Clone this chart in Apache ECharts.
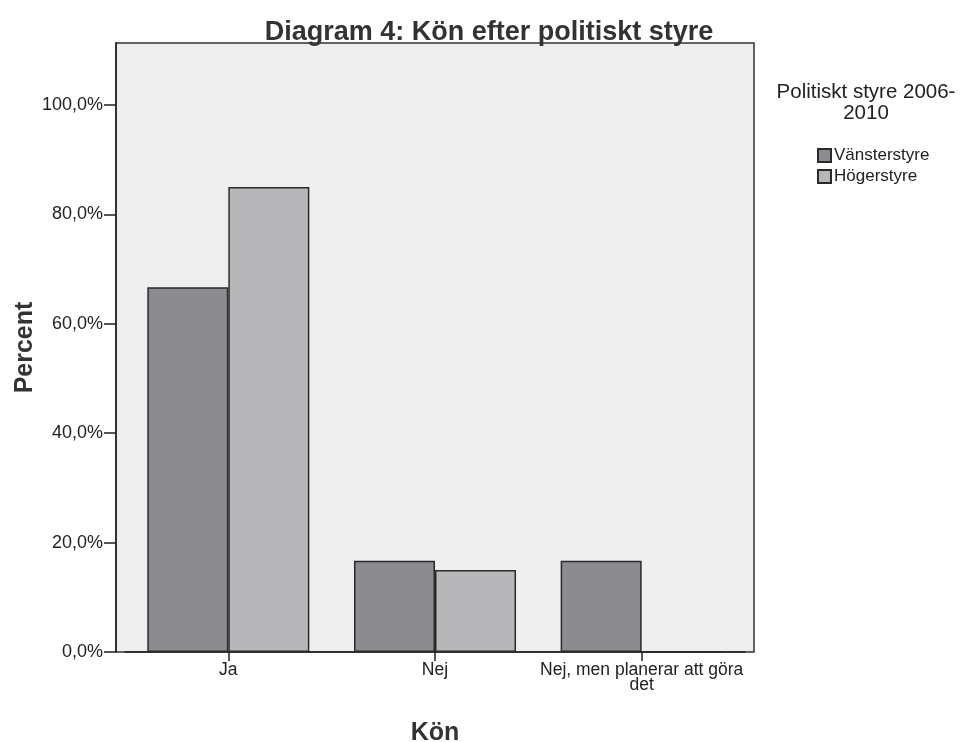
<!DOCTYPE html>
<html>
<head>
<meta charset="utf-8">
<script src="https://cdn.jsdelivr.net/npm/echarts@6/dist/echarts.min.js"></script>
<style>html,body{margin:0;padding:0;background:#fff;}#c{width:974px;height:742px;}</style>
</head>
<body>
<div id="c"></div>
<script>
const categories = ['Ja', 'Nej', 'Nej, men planerar att göra\ndet'];
const seriesNames = ['Vänsterstyre', 'Högerstyre'];
const vansterValues = [66.7, 16.7, 16.7];
const hogerValues = [85.0, 15.0, 0];
const yTicks = [0, 20, 40, 60, 80, 100];

const FONT = 'Liberation Sans, Arial, sans-serif';
const chart = echarts.init(document.getElementById('c'));
chart.setOption({
  backgroundColor: '#ffffff',
  animation: false,
  title: {
    text: 'Diagram 4: Kön efter politiskt styre',
    left: 484, top: 14, textAlign: 'center',
    textStyle: { fontFamily: FONT, fontSize: 27, fontWeight: 'bold', color: '#333' }
  },
  graphic: [{
    type: 'text', x: 866, y: 82,
    style: { text: 'Politiskt styre 2006-\n2010', fontFamily: FONT, fontSize: 20.5, fill: '#222', align: 'center', lineHeight: 21 }
  }],
  legend: {
    orient: 'vertical', left: 812, top: 142, itemWidth: 13, itemHeight: 13, itemGap: 4,
    icon: 'rect',
    textStyle: { fontFamily: FONT, fontSize: 17, color: '#222', padding: [0,0,0,-2] },
    data: seriesNames
  },
  grid: [
    { left: 116, top: 43, width: 638, height: 609, show: true, backgroundColor: '#eeeeee', borderColor: '#333', borderWidth: 1.5, outerBoundsMode: 'none' },
    { left: 125, top: 43, width: 620, height: 609, outerBoundsMode: 'none' }
  ],
  xAxis: [
    { gridIndex: 0, type: 'value', show: false },
    {
      gridIndex: 1, type: 'category', data: categories, boundaryGap: true,
      axisLine: { show: true, lineStyle: { color: '#222', width: 1.5 } },
      axisTick: { show: true, alignWithLabel: true, length: 9, lineStyle: { color: '#222', width: 1.5 } },
      axisLabel: { interval: 0, fontFamily: FONT, fontSize: 17.5, color: '#222', margin: 11, lineHeight: 15 },
      name: 'Kön', nameLocation: 'middle', nameGap: 69, nameMoveOverlap: false,
      nameTextStyle: { fontFamily: FONT, fontSize: 25, fontWeight: 'bold', color: '#333' }
    }
  ],
  yAxis: [
    { gridIndex: 0, type: 'value', show: false },
    {
      gridIndex: 1, type: 'value', min: 0, max: 111.33, interval: 20, offset: 9,
      splitLine: { show: false },
      axisLine: { show: true, lineStyle: { color: '#222', width: 1.5 } },
      axisTick: { show: true, length: 12, customValues: yTicks, lineStyle: { color: '#222', width: 1.5 } },
      axisLabel: {
        fontFamily: FONT, fontSize: 18, color: '#222', margin: 13, customValues: yTicks,
        formatter: v => v.toFixed(1).replace('.', ',') + '%'
      },
      name: 'Percent', nameLocation: 'middle', nameGap: 78, nameRotate: 90, nameMoveOverlap: false,
      nameTextStyle: { fontFamily: FONT, fontSize: 25, fontWeight: 'bold', color: '#333' }
    }
  ],
  series: [
    {
      name: seriesNames[0], type: 'bar', xAxisIndex: 1, yAxisIndex: 1, data: vansterValues,
      barGap: '0%', barCategoryGap: '21.6%',
      itemStyle: { color: '#8b8b90', borderColor: '#2a2a2a', borderWidth: 1.5 }
    },
    {
      name: seriesNames[1], type: 'bar', xAxisIndex: 1, yAxisIndex: 1, data: hogerValues,
      barGap: '0%', barCategoryGap: '21.6%',
      itemStyle: { color: '#b7b7ba', borderColor: '#2a2a2a', borderWidth: 1.5 }
    }
  ]
});
</script>
</body>
</html>
